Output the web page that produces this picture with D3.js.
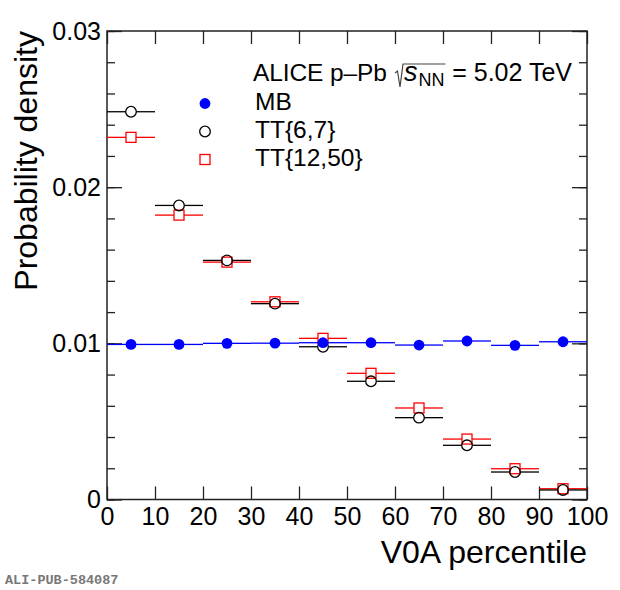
<!DOCTYPE html>
<html>
<head>
<meta charset="utf-8">
<script src="https://cdn.jsdelivr.net/npm/d3@7"></script>
<style>
  body { margin: 0; background: #fff; }
  text { font-family: "Liberation Sans", Arial, Helvetica, sans-serif; }
</style>
</head>
<body>
<div id="chart"></div>
<script>
// DATA (bin centres, V0A percentile)
const binCenters = [5, 15, 25, 35, 45, 55, 65, 75, 85, 95];
const binHalfWidth = 5;
const mbValues = [0.00993, 0.00993, 0.01000, 0.01001, 0.01004, 0.01004, 0.00989, 0.01015, 0.00987, 0.01010];
const tt67Values = [0.02483, 0.01883, 0.01531, 0.01254, 0.00978, 0.00757, 0.00524, 0.00347, 0.00176, 0.00061];
const tt1250Values = [0.02319, 0.01821, 0.01520, 0.01266, 0.01032, 0.00808, 0.00586, 0.00387, 0.00197, 0.00069];
const xTicks = [0, 10, 20, 30, 40, 50, 60, 70, 80, 90, 100];
const yMajorTicks = [0, 0.01, 0.02, 0.03];
const yMinorTicks = d3.range(0, 0.0301, 0.002);
const legendLabels = ["MB", "TT{6,7}", "TT{12,50}"];

// SVG CANVAS
const width = 620, height = 590;
const margin = {top: 31, left: 107, right: 33, bottom: 90.5};

const svg = d3.select("#chart").append("svg")
    .attr("width", width)
    .attr("height", height);

// SCALES
const xScale = d3.scaleLinear().domain([0, 100]).range([margin.left, width - margin.right]);
const yScale = d3.scaleLinear().domain([0, 0.03]).range([height - margin.bottom, margin.top]);

// AXES (ticks point inward, ROOT style)
const axisColor = "#222";
function styleAxis(g) {
    g.select(".domain").remove();
    g.selectAll(".tick line").attr("stroke", axisColor).attr("stroke-width", 1.3);
    g.selectAll(".tick text").attr("fill", "#000").style("font-size", "25px")
        .style("font-family", "'Liberation Sans', Arial, sans-serif");
}

const x0 = xScale(0), x1 = xScale(100), y0 = yScale(0), y1 = yScale(0.03);

svg.append("g").attr("transform", `translate(0,${y0})`)
    .call(d3.axisBottom(xScale).tickValues(xTicks).tickSize(-13).tickSizeOuter(0).tickPadding(7.5).tickFormat(d3.format("d")))
    .call(styleAxis);
svg.append("g").attr("transform", `translate(0,${y1})`)
    .call(d3.axisTop(xScale).tickValues(xTicks).tickSize(-13).tickSizeOuter(0).tickFormat(""))
    .call(styleAxis);

svg.append("g").attr("transform", `translate(${x0},0)`)
    .call(d3.axisLeft(yScale).tickValues(yMinorTicks).tickSize(-8).tickSizeOuter(0).tickFormat(""))
    .call(styleAxis);
svg.append("g").attr("transform", `translate(${x0},0)`)
    .call(d3.axisLeft(yScale).tickValues(yMajorTicks).tickSize(-15).tickSizeOuter(0).tickPadding(6)
        .tickFormat(d => d === 0 ? "0" : d3.format(".2f")(d)))
    .call(styleAxis);
svg.append("g").attr("transform", `translate(${x1},0)`)
    .call(d3.axisRight(yScale).tickValues(yMinorTicks).tickSize(-8).tickSizeOuter(0).tickFormat(""))
    .call(styleAxis);
svg.append("g").attr("transform", `translate(${x1},0)`)
    .call(d3.axisRight(yScale).tickValues(yMajorTicks).tickSize(-15).tickSizeOuter(0).tickFormat(""))
    .call(styleAxis);

// FRAME
svg.append("rect")
    .attr("x", x0).attr("y", y1)
    .attr("width", x1 - x0).attr("height", y0 - y1)
    .attr("fill", "none").attr("stroke", axisColor).attr("stroke-width", 1.5);

// AXIS LABELS
svg.append("text")
    .attr("x", x1).attr("y", 563)
    .attr("text-anchor", "end")
    .style("font-size", "32px")
    .text("V0A percentile");

svg.append("text")
    .attr("transform", `translate(37,${y1}) rotate(-90)`)
    .attr("text-anchor", "end")
    .style("font-size", "32px")
    .text("Probability density");

// SERIES
const series = [
    {values: tt1250Values, color: "#ff0000", shape: "square", r: 5},
    {values: tt67Values, color: "#000000", shape: "circle", r: 5.3},
    {values: mbValues, color: "#0000ff", shape: "dot", r: 5.4}
];

function drawMarker(g, shape, color, r) {
    if (shape === "square") {
        g.append("rect").attr("x", -r).attr("y", -r).attr("width", 2 * r).attr("height", 2 * r)
            .attr("fill", "none").attr("stroke", color).attr("stroke-width", 1.3);
    } else if (shape === "circle") {
        g.append("circle").attr("r", r).attr("fill", "none").attr("stroke", color).attr("stroke-width", 1.3);
    } else {
        g.append("circle").attr("r", r).attr("fill", color);
    }
}

series.forEach(function(s) {
    const g = svg.append("g");
    const pts = binCenters.map((c, i) => ({c: c, v: s.values[i]}));
    const gap = s.shape === "dot" ? 0 : s.r;

    g.selectAll("line.left").data(pts).enter().append("line")
        .attr("x1", d => xScale(d.c - binHalfWidth))
        .attr("x2", d => xScale(d.c) - gap)
        .attr("y1", d => yScale(d.v)).attr("y2", d => yScale(d.v))
        .attr("stroke", s.color).attr("stroke-width", 1.3);
    g.selectAll("line.right").data(pts).enter().append("line")
        .attr("x1", d => xScale(d.c) + gap)
        .attr("x2", d => xScale(d.c + binHalfWidth))
        .attr("y1", d => yScale(d.v)).attr("y2", d => yScale(d.v))
        .attr("stroke", s.color).attr("stroke-width", 1.3);

    g.selectAll("g.marker").data(pts).enter().append("g")
        .attr("transform", d => `translate(${xScale(d.c)},${yScale(d.v)})`)
        .each(function() { drawMarker(d3.select(this), s.shape, s.color, s.r); });
});

// LEGEND
const legendX = 205, textX = 255;
const rowBaselines = [110, 138, 166];
const legendSeries = [series[2], series[1], series[0]];
const legendFont = "24.5px";

legendSeries.forEach(function(s, i) {
    const m = svg.append("g").attr("transform", `translate(${legendX},${rowBaselines[i] - 6.5})`);
    drawMarker(m, s.shape, s.color, s.r);
    svg.append("text").attr("x", textX).attr("y", rowBaselines[i])
        .style("font-size", legendFont).text(legendLabels[i]);
});

// HEADER: ALICE p–Pb sqrt(s_NN) = 5.02 TeV
const headY = 81;
svg.append("text").attr("x", 253).attr("y", headY).style("font-size", legendFont)
    .attr("textLength", 134).attr("lengthAdjust", "spacing").text("ALICE p\u2013Pb");
const radX = 395;
let cx = radX + 9;
const tS = svg.append("text").attr("x", cx).attr("y", headY).style("font-size", "27px")
    .style("font-style", "italic").text("s");
cx += tS.node().getComputedTextLength() + 1;
const tNN = svg.append("text").attr("x", cx).attr("y", headY + 5).style("font-size", "18px").text("NN");
cx += tNN.node().getComputedTextLength() + 1;
svg.append("path")
    .attr("d", `M${radX},${headY - 8} L${radX + 2.5},${headY - 10} L${radX + 5},${headY + 6} L${radX + 8},${headY - 17} L${cx},${headY - 17}`)
    .attr("fill", "none").attr("stroke", "#444").attr("stroke-width", 1.2);
svg.append("text").attr("x", 572).attr("y", headY).attr("text-anchor", "end")
    .style("font-size", "25px").text("= 5.02 TeV");

// WATERMARK
svg.append("text").attr("x", 5).attr("y", 584)
    .style("font-family", "'Liberation Mono', 'Courier New', monospace")
    .style("font-size", "13.5px").style("font-weight", "bold")
    .attr("fill", "#777")
    .text("ALI-PUB-584087");
</script>
</body>
</html>
